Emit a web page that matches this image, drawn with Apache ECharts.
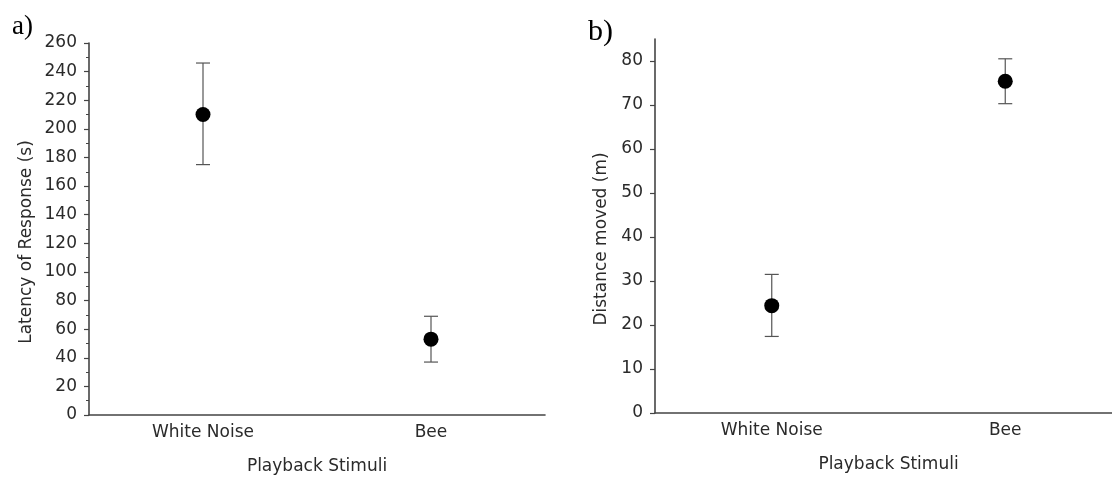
<!DOCTYPE html>
<html>
<head>
<meta charset="utf-8">
<script src="https://cdn.jsdelivr.net/npm/echarts@6/dist/echarts.min.js"></script>
<style>
html,body{margin:0;padding:0;background:#fff;overflow:hidden;width:1112px;height:480px;}
#chart{width:1130px;height:480px;}
</style>
</head>
<body>
<div id="chart"></div>
<script>
// Data
var categories = ['White Noise', 'Bee'];
var latencyMean = [210, 53];
var latencyLow = [175, 37];
var latencyHigh = [246, 69];
var distanceMean = [24.4, 75.4];
var distanceLow = [17.4, 70.3];
var distanceHigh = [31.5, 80.5];
var latencyTicks = [0, 20, 40, 60, 80, 100, 120, 140, 160, 180, 200, 220, 240, 260];
var distanceTicks = [0, 10, 20, 30, 40, 50, 60, 70, 80];

var FONT = 'DejaVu Sans';
var TEXT = '#2a2a2a';
var LINE = '#444';

function errData(low, high) {
  return categories.map(function (c, i) { return [c, low[i], high[i]]; });
}
function errRender(params, api) {
  var lo = api.coord([api.value(0), api.value(1)]);
  var hi = api.coord([api.value(0), api.value(2)]);
  var w = 7;
  var st = { stroke: '#555', lineWidth: 1.2 };
  return {
    type: 'group',
    children: [
      { type: 'line', shape: { x1: lo[0], y1: lo[1], x2: hi[0], y2: hi[1] }, style: st },
      { type: 'line', shape: { x1: lo[0] - w, y1: lo[1], x2: lo[0] + w, y2: lo[1] }, style: st },
      { type: 'line', shape: { x1: hi[0] - w, y1: hi[1], x2: hi[0] + w, y2: hi[1] }, style: st }
    ]
  };
}

function xAx(gi) {
  return {
    type: 'category', gridIndex: gi, data: categories, boundaryGap: true,
    name: 'Playback Stimuli', nameLocation: 'middle', nameGap: 43,
    nameTextStyle: { fontFamily: FONT, fontSize: 17, color: TEXT },
    axisLine: { lineStyle: { color: LINE, width: 1.6 } },
    axisTick: { alignWithLabel: true, length: 5, lineStyle: { color: LINE, width: 1.2 } },
    axisLabel: { fontFamily: FONT, fontSize: 17, color: TEXT, margin: 9 },
    splitLine: { show: false }
  };
}

var option = {
  animation: false,
  backgroundColor: '#fff',
  title: [
    { text: 'a)', left: 7, top: 8, textStyle: { fontFamily: 'Liberation Serif', fontSize: 27, fontWeight: 'normal', color: '#000' } },
    { text: 'b)', left: 583, top: 12, textStyle: { fontFamily: 'Liberation Serif', fontSize: 30, fontWeight: 'normal', color: '#000' } }
  ],
  grid: [
    { left: 89, top: 43, width: 456, bottom: 65 },
    { left: 655, top: 39, width: 467, bottom: 67 }
  ],
  xAxis: [xAx(0), xAx(1)],
  yAxis: [
    {
      type: 'value', gridIndex: 0, min: 0, max: 260, interval: 20,
      name: 'Latency of Response (s)', nameLocation: 'middle', nameGap: 54,
      nameTextStyle: { fontFamily: FONT, fontSize: 17, color: TEXT, padding: [0, 26, 0, 0] },
      axisLine: { show: true, lineStyle: { color: LINE, width: 1.6 } },
      axisTick: { show: true, length: 5, lineStyle: { color: LINE, width: 1.2 } },
      minorTick: { show: true, splitNumber: 2, length: 3, lineStyle: { color: LINE, width: 1 } },
      axisLabel: { fontFamily: FONT, fontSize: 17, color: TEXT, margin: 12, customValues: latencyTicks },
      splitLine: { show: false }
    },
    {
      type: 'value', gridIndex: 1, min: 0, max: 85, interval: 10,
      name: 'Distance moved (m)', nameLocation: 'middle', nameGap: 45,
      nameTextStyle: { fontFamily: FONT, fontSize: 17, color: TEXT, padding: [0, 26, 0, 0] },
      axisLine: { show: true, lineStyle: { color: LINE, width: 1.6 } },
      axisTick: { show: true, length: 5, customValues: distanceTicks, lineStyle: { color: LINE, width: 1.2 } },
      axisLabel: { fontFamily: FONT, fontSize: 17, color: TEXT, margin: 12, customValues: distanceTicks },
      splitLine: { show: false }
    },
    {
      type: 'value', gridIndex: 1, min: 0, max: 85, interval: 5,
      axisLine: { show: false },
      axisTick: { show: true, length: 3, lineStyle: { color: LINE, width: 1 } },
      axisLabel: { show: false },
      splitLine: { show: false }
    }
  ],
  series: [
    { type: 'custom', xAxisIndex: 0, yAxisIndex: 0, renderItem: errRender, data: errData(latencyLow, latencyHigh), encode: { x: 0, y: [1, 2] }, z: 2 },
    { type: 'scatter', xAxisIndex: 0, yAxisIndex: 0, data: latencyMean, symbolSize: 15, itemStyle: { color: '#000', opacity: 1 }, z: 3 },
    { type: 'custom', xAxisIndex: 1, yAxisIndex: 1, renderItem: errRender, data: errData(distanceLow, distanceHigh), encode: { x: 0, y: [1, 2] }, z: 2 },
    { type: 'scatter', xAxisIndex: 1, yAxisIndex: 1, data: distanceMean, symbolSize: 15, itemStyle: { color: '#000', opacity: 1 }, z: 3 }
  ]
};

var chart = echarts.init(document.getElementById('chart'), null, { renderer: 'canvas' });
chart.setOption(option);
</script>
</body>
</html>
